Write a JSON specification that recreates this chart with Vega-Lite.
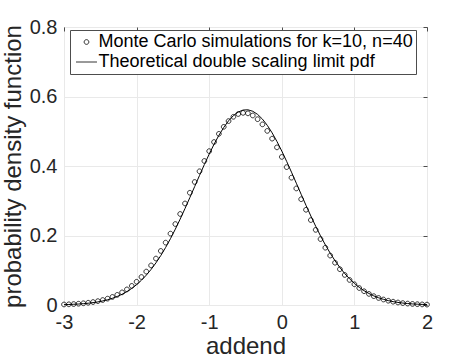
{
  "$schema": "https://vega.github.io/schema/vega-lite/v6.json",
  "width": 363,
  "height": 278,
  "autosize": {"type": "none"},
  "padding": {"left": 64, "top": 27, "right": 46, "bottom": 55},
  "background": "white",
  "config": {
    "font": "Liberation Sans",
    "view": {"stroke": "#4d4d4d", "strokeWidth": 1},
    "axis": {
      "labelFont": "Liberation Sans", "labelFontSize": 20, "labelColor": "#262626",
      "titleFont": "Liberation Sans", "titleFontSize": 24, "titleFontWeight": "normal", "titleColor": "#262626",
      "gridColor": "#e9e9e9", "gridWidth": 1, "domain": false,
      "labelFlush": false, "labelOverlap": false
    }
  },
  "data": {"values": [
    {"x": -3, "mc": 0.0015, "theory": 0.0011},
    {"x": -2.9333, "mc": 0.0020, "theory": 0.0015},
    {"x": -2.8667, "mc": 0.0027, "theory": 0.0021},
    {"x": -2.8, "mc": 0.0037, "theory": 0.0028},
    {"x": -2.7333, "mc": 0.0049, "theory": 0.0038},
    {"x": -2.6667, "mc": 0.0065, "theory": 0.0051},
    {"x": -2.6, "mc": 0.0085, "theory": 0.0068},
    {"x": -2.5333, "mc": 0.0111, "theory": 0.0089},
    {"x": -2.4667, "mc": 0.0143, "theory": 0.0117},
    {"x": -2.4, "mc": 0.0183, "theory": 0.0151},
    {"x": -2.3333, "mc": 0.0232, "theory": 0.0193},
    {"x": -2.2667, "mc": 0.0292, "theory": 0.0246},
    {"x": -2.2, "mc": 0.0363, "theory": 0.0309},
    {"x": -2.1333, "mc": 0.0449, "theory": 0.0386},
    {"x": -2.0667, "mc": 0.0550, "theory": 0.0477},
    {"x": -2, "mc": 0.0669, "theory": 0.0585},
    {"x": -1.9333, "mc": 0.0806, "theory": 0.0712},
    {"x": -1.8667, "mc": 0.0962, "theory": 0.0858},
    {"x": -1.8, "mc": 0.1139, "theory": 0.1025},
    {"x": -1.7333, "mc": 0.1337, "theory": 0.1213},
    {"x": -1.6667, "mc": 0.1556, "theory": 0.1423},
    {"x": -1.6, "mc": 0.1795, "theory": 0.1656},
    {"x": -1.5333, "mc": 0.2054, "theory": 0.1909},
    {"x": -1.4667, "mc": 0.2330, "theory": 0.2182},
    {"x": -1.4, "mc": 0.2620, "theory": 0.2472},
    {"x": -1.3333, "mc": 0.2922, "theory": 0.2776},
    {"x": -1.2667, "mc": 0.3230, "theory": 0.3090},
    {"x": -1.2, "mc": 0.3540, "theory": 0.3409},
    {"x": -1.1333, "mc": 0.3848, "theory": 0.3728},
    {"x": -1.0667, "mc": 0.4145, "theory": 0.4041},
    {"x": -1, "mc": 0.4428, "theory": 0.4342},
    {"x": -0.9333, "mc": 0.4690, "theory": 0.4625},
    {"x": -0.8667, "mc": 0.4925, "theory": 0.4882},
    {"x": -0.8, "mc": 0.5127, "theory": 0.5109},
    {"x": -0.7333, "mc": 0.5293, "theory": 0.5300},
    {"x": -0.6667, "mc": 0.5416, "theory": 0.5449},
    {"x": -0.6, "mc": 0.5496, "theory": 0.5553},
    {"x": -0.5333, "mc": 0.5529, "theory": 0.5610},
    {"x": -0.4667, "mc": 0.5515, "theory": 0.5617},
    {"x": -0.4, "mc": 0.5454, "theory": 0.5575},
    {"x": -0.3333, "mc": 0.5347, "theory": 0.5485},
    {"x": -0.2667, "mc": 0.5198, "theory": 0.5349},
    {"x": -0.2, "mc": 0.5010, "theory": 0.5170},
    {"x": -0.1333, "mc": 0.4787, "theory": 0.4954},
    {"x": -0.0667, "mc": 0.4536, "theory": 0.4705},
    {"x": 0, "mc": 0.4261, "theory": 0.4429},
    {"x": 0.0667, "mc": 0.3968, "theory": 0.4133},
    {"x": 0.1333, "mc": 0.3664, "theory": 0.3823},
    {"x": 0.2, "mc": 0.3354, "theory": 0.3505},
    {"x": 0.2667, "mc": 0.3044, "theory": 0.3185},
    {"x": 0.3333, "mc": 0.2740, "theory": 0.2869},
    {"x": 0.4, "mc": 0.2444, "theory": 0.2562},
    {"x": 0.4667, "mc": 0.2162, "theory": 0.2267},
    {"x": 0.5333, "mc": 0.1897, "theory": 0.1989},
    {"x": 0.6, "mc": 0.1649, "theory": 0.1730},
    {"x": 0.6667, "mc": 0.1422, "theory": 0.1491},
    {"x": 0.7333, "mc": 0.1216, "theory": 0.1274},
    {"x": 0.8, "mc": 0.1030, "theory": 0.1079},
    {"x": 0.8667, "mc": 0.0865, "theory": 0.0905},
    {"x": 0.9333, "mc": 0.0721, "theory": 0.0754},
    {"x": 1, "mc": 0.0596, "theory": 0.0622},
    {"x": 1.0667, "mc": 0.0488, "theory": 0.0508},
    {"x": 1.1333, "mc": 0.0396, "theory": 0.0412},
    {"x": 1.2, "mc": 0.0319, "theory": 0.0331},
    {"x": 1.2667, "mc": 0.0254, "theory": 0.0263},
    {"x": 1.3333, "mc": 0.0202, "theory": 0.0208},
    {"x": 1.4, "mc": 0.0158, "theory": 0.0163},
    {"x": 1.4667, "mc": 0.0123, "theory": 0.0126},
    {"x": 1.5333, "mc": 0.0095, "theory": 0.0097},
    {"x": 1.6, "mc": 0.0072, "theory": 0.0074},
    {"x": 1.6667, "mc": 0.0055, "theory": 0.0056},
    {"x": 1.7333, "mc": 0.0041, "theory": 0.0042},
    {"x": 1.8, "mc": 0.0031, "theory": 0.0031},
    {"x": 1.8667, "mc": 0.0023, "theory": 0.0023},
    {"x": 1.9333, "mc": 0.0017, "theory": 0.0017},
    {"x": 2, "mc": 0.0012, "theory": 0.0012}
  ]},
  "resolve": {"axis": {"x": "independent", "y": "independent"}},
  "layer": [
    {
      "mark": {"type": "point", "filled": false, "stroke": "black", "strokeWidth": 0.8, "size": 110, "opacity": 1},
      "encoding": {
        "x": {"field": "x", "type": "quantitative",
          "scale": {"domain": [-3, 2], "nice": false, "zero": false},
          "axis": {"values": [-3, -2, -1, 0, 1, 2], "labelExpr": "datum.value + ''", "grid": true, "ticks": false,
            "labelPadding": 7.5, "title": "addend", "titlePadding": 2}},
        "y": {"field": "mc", "type": "quantitative",
          "scale": {"domain": [0, 0.8], "nice": false},
          "axis": {"values": [0, 0.2, 0.4, 0.6, 0.8], "labelExpr": "datum.value + ''", "grid": true, "ticks": false,
            "labelPadding": 7, "title": "probability density function", "titlePadding": 4}},
        "shape": {
          "datum": "Monte Carlo simulations for k=10, n=40",
          "scale": {
            "domain": ["Monte Carlo simulations for k=10, n=40", "Theoretical double scaling limit pdf"],
            "range": ["M0.45,0A0.45,0.45,0,1,1,-0.45,0A0.45,0.45,0,1,1,0.45,0Z", "M-2,0L2,0"]
          },
          "legend": {
            "title": null, "orient": "none", "legendX": 6, "legendY": 3, "padding": 3,
            "fillColor": "white", "strokeColor": "#4d4d4d",
            "labelFont": "Liberation Sans", "labelFontSize": 18, "labelColor": "black", "labelLimit": 0,
            "symbolSize": 110, "symbolStrokeColor": "black", "symbolStrokeWidth": 0.8, "symbolFillColor": "transparent",
            "symbolOffset": 4.5, "labelOffset": 3, "rowPadding": 2
          }
        }
      }
    },
    {
      "mark": {"type": "line", "stroke": "black", "strokeWidth": 1},
      "encoding": {
        "x": {"field": "x", "type": "quantitative",
          "axis": {"orient": "top", "values": [-3, -2, -1, 0, 1, 2], "labels": false, "title": null, "grid": false,
            "ticks": true, "tickSize": -4, "tickColor": "#4d4d4d"}},
        "y": {"field": "theory", "type": "quantitative",
          "axis": {"orient": "right", "values": [0, 0.2, 0.4, 0.6, 0.8], "labels": false, "title": null, "grid": false,
            "ticks": true, "tickSize": -4, "tickColor": "#4d4d4d"}}
      }
    }
  ]
}
